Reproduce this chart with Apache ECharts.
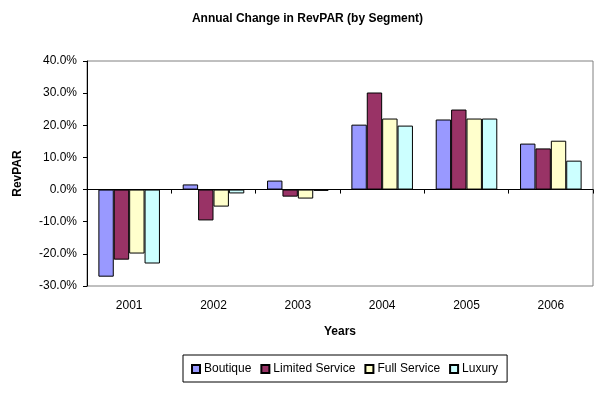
<!DOCTYPE html>
<html><head><meta charset="utf-8">
<script src="https://cdn.jsdelivr.net/npm/echarts@6/dist/echarts.min.js"></script>
<style>html,body{margin:0;padding:0;background:#fff}#c{width:615px;height:393px}</style>
</head><body><div id="c"></div>
<script>
const years = ['2001','2002','2003','2004','2005','2006'];
const boutique = [-27.1, 1.6, 2.8, 20.2, 21.8, 14.3];
const limitedService = [-21.8, -9.6, -2.2, 30.2, 24.9, 12.8];
const fullService = [-19.9, -5.3, -2.8, 22.1, 22.1, 15.2];
const luxury = [-23.0, -1.2, -0.4, 19.9, 22.1, 9.0];
const seriesNames = ['Boutique','Limited Service','Full Service','Luxury'];
const seriesColors = ['#9999FF','#993366','#FFFFCC','#CCFFFF'];
const seriesData = [boutique, limitedService, fullService, luxury];

const font = 'Liberation Sans, Arial, sans-serif';
const chart = echarts.init(document.getElementById('c'));
chart.setOption({
  animation: false,
  backgroundColor: '#fff',
  textStyle: {fontFamily: font},
  title: {text: 'Annual Change in RevPAR (by Segment)', left: 'center', top: 8,
    textStyle: {fontSize: 12, fontWeight: 'bold', color: '#000', fontFamily: font}},
  grid: {left: 87, right: 22, top: 61, bottom: 107, show: true, borderColor: '#808080', borderWidth: 1},
  legend: {data: seriesNames, left: 183, top: 355, orient: 'horizontal',
    borderColor: '#000', borderWidth: 1, padding: [8, 9, 7, 8], itemWidth: 8, itemHeight: 8, itemGap: 9,
    icon: 'rect', textStyle: {fontSize: 12, color: '#000', fontFamily: font, padding: [0,0,0,-1]}},
  xAxis: [{
    type: 'category', data: years, position: 'bottom',
    axisLine: {show: false, onZero: false}, axisTick: {show: false},
    axisLabel: {fontSize: 12, color: '#000', margin: 14, fontFamily: font},
    name: 'Years', nameLocation: 'middle', nameGap: 40,
    nameTextStyle: {fontSize: 12, fontWeight: 'bold', color: '#000', fontFamily: font}
  }, {
    type: 'category', data: years, position: 'bottom',
    axisLine: {show: true, onZero: true, lineStyle: {color: '#000', width: 1}},
    axisTick: {show: true, length: 4, lineStyle: {color: '#000'}},
    axisLabel: {show: false}
  }],
  yAxis: {
    type: 'value', min: -30, max: 40, interval: 10,
    axisLine: {show: true, lineStyle: {color: '#000'}},
    axisTick: {show: true, length: 4, lineStyle: {color: '#000'}},
    splitLine: {show: false},
    axisLabel: {fontSize: 12, color: '#000', margin: 10, fontFamily: font, formatter: v => v.toFixed(1) + '%'},
    name: 'RevPAR', nameLocation: 'middle', nameGap: 63, nameRotate: 90,
    nameTextStyle: {fontSize: 12, fontWeight: 'bold', color: '#000', fontFamily: font}
  },
  series: seriesData.map((d, i) => ({
    name: seriesNames[i], type: 'bar', data: d, xAxisIndex: 0,
    barGap: '0%', barCategoryGap: '27%',
    itemStyle: {color: seriesColors[i], borderColor: '#000', borderWidth: 1}
  }))
});
</script></body></html>
